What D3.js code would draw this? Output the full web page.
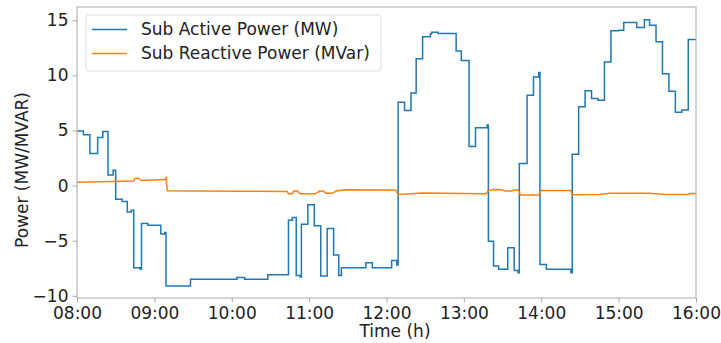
<!DOCTYPE html>
<html>
<head>
<meta charset="utf-8">
<script src="https://cdn.jsdelivr.net/npm/d3@7"></script>
<style>
  body { margin: 0; background: #fff; }
  text { font-family: "DejaVu Sans", sans-serif; fill: #222; }
</style>
</head>
<body>
<svg width="721" height="343"></svg>
<script>
// Active power: step start times and values
var activeTimes = ["08:00","08:05","08:10","08:16","08:20","08:24","08:28","08:30","08:35","08:39","08:42","08:44","08:49","08:50","08:55","09:05","09:08","09:09","09:28","10:04","10:10","10:28","10:44","10:47","10:50","10:53","10:54","10:59","11:04","11:09","11:14","11:19","11:23","11:25","11:44","11:49","12:04","12:08","12:09","12:14","12:19","12:23","12:28","12:34","12:35","12:40","12:54","12:58","13:04","13:09","13:18","13:19","13:23","13:27","13:34","13:39","13:42","13:43","13:49","13:54","13:58","13:59","14:04","14:23","14:24","14:29","14:34","14:39","14:44","14:49","14:54","15:00","15:04","15:14","15:20","15:24","15:29","15:34","15:39","15:44","15:49","15:54","16:00"];
var activeValues = [4.95,4.6,2.9,4.35,4.9,0.95,1.4,-1.25,-1.45,-2.4,-2.25,-7.45,-7.6,-3.45,-3.6,-4.4,-4.25,-9.1,-8.5,-8.35,-8.5,-8.1,-3.15,-2.9,-8.15,-8.3,-3.5,-1.75,-3.65,-8.2,-3.9,-6.3,-8.15,-7.45,-7.0,-7.45,-6.8,-7.2,7.55,6.8,8.4,11.5,13.5,13.75,13.9,13.8,12.2,11.35,3.55,5.25,5.5,-5.05,-7.3,-7.6,-5.65,-7.7,-7.9,2.0,8.2,9.85,10.25,-7.15,-7.6,-7.9,2.85,7.15,8.6,7.9,7.75,11.2,14.05,14.1,14.8,14.35,15.05,14.55,13.05,10.15,8.55,6.65,6.85,13.25,13.25];

// Reactive power
var reactiveTimes = ["08:00","08:44","08:45","08:48","08:50","09:08","09:09","09:10","10:06","10:43","10:44","10:47","10:48","10:51","10:53","11:05","11:08","11:11","11:13","11:18","11:21","11:28","12:07","12:09","12:28","13:17","13:19","13:23","13:29","13:32","13:37","13:39","13:42","13:44","13:58","14:00","14:23","14:24","14:45","14:53","15:24","15:36","15:54","15:55","16:00"];
var reactiveValues = [0.3,0.42,0.65,0.65,0.45,0.55,0.7,-0.47,-0.52,-0.53,-0.75,-0.75,-0.5,-0.5,-0.75,-0.75,-0.5,-0.5,-0.7,-0.7,-0.5,-0.38,-0.4,-0.8,-0.68,-0.75,-0.47,-0.35,-0.38,-0.5,-0.5,-0.4,-0.4,-0.85,-0.85,-0.44,-0.44,-0.83,-0.8,-0.7,-0.7,-0.8,-0.8,-0.73,-0.73];

var xTicks = ["08:00","09:00","10:00","11:00","12:00","13:00","14:00","15:00","16:00"];
var yTicks = [-10, -5, 0, 5, 10, 15];

var seriesNames = ["Sub Active Power (MW)", "Sub Reactive Power (MVar)"];
var seriesColors = ["#1f77b4", "#ff7f0e"];

var svg = d3.select("svg");
var margin = {left: 77, top: 7, right: 25, bottom: 45};
var width = 721 - margin.left - margin.right,
    height = 343 - margin.top - margin.bottom;

var parse = d3.timeParse("%H:%M");

var x = d3.scaleTime()
    .domain([parse("08:00"), parse("16:00")])
    .range([0, width]);

var y = d3.scaleLinear()
    .domain([-10.2, 16.2])
    .range([height, 0]);

var g = svg.append("g")
    .attr("transform", "translate(" + margin.left + "," + margin.top + ")");

var active = activeTimes.map(function(t, i){ return {t: parse(t), v: activeValues[i]} });
var reactive = reactiveTimes.map(function(t, i){ return {t: parse(t), v: reactiveValues[i]} });

// lines
g.append("path")
    .datum(active)
    .attr("fill", "none")
    .attr("stroke", seriesColors[0])
    .attr("stroke-width", 1.5)
    .attr("d", d3.line()
        .curve(d3.curveStepAfter)
        .x(function(d){ return x(d.t) })
        .y(function(d){ return y(d.v) }));

g.append("path")
    .datum(reactive)
    .attr("fill", "none")
    .attr("stroke", seriesColors[1])
    .attr("stroke-width", 1.5)
    .attr("d", d3.line()
        .x(function(d){ return x(d.t) })
        .y(function(d){ return y(d.v) }));

// axes
var xAxis = g.append("g")
    .attr("transform", "translate(0," + height + ")")
    .call(d3.axisBottom(x)
        .tickValues(xTicks.map(parse))
        .tickFormat(d3.timeFormat("%H:%M"))
        .tickSize(4.5)
        .tickPadding(4));

var yAxis = g.append("g")
    .call(d3.axisLeft(y)
        .tickValues(yTicks)
        .tickSize(4.5)
        .tickPadding(4));

[xAxis, yAxis].forEach(function(a){
    a.select(".domain").remove();
    a.selectAll("line").attr("stroke", "#aaa");
    a.selectAll("text").style("font-size", "17px").style("fill", "#222");
});

// frame
g.append("rect")
    .attr("width", width)
    .attr("height", height)
    .attr("fill", "none")
    .attr("stroke", "#aaa")
    .attr("stroke-width", 1);

// axis labels
svg.append("text")
    .attr("x", 395)
    .attr("y", 337)
    .attr("text-anchor", "middle")
    .style("font-size", "17px")
    .text("Time (h)");

svg.append("text")
    .attr("transform", "translate(22,170) rotate(-90)")
    .attr("text-anchor", "middle")
    .attr("dy", "0.35em")
    .style("font-size", "17px")
    .text("Power (MW/MVAR)");

// legend
var legend = g.append("g")
    .attr("transform", "translate(9,8)");

legend.append("rect")
    .attr("width", 295)
    .attr("height", 56)
    .attr("rx", 3)
    .attr("fill", "#fff")
    .attr("fill-opacity", 0.8)
    .attr("stroke", "#ddd");

var items = legend.selectAll("g.item")
    .data(seriesNames)
    .enter()
    .append("g")
      .attr("transform", function(d, i){ return "translate(0," + (14.5 + i * 24) + ")" });

items.append("line")
    .attr("x1", 6).attr("x2", 41)
    .attr("stroke", function(d, i){ return seriesColors[i] })
    .attr("stroke-width", 1.5);

items.append("text")
    .attr("x", 55)
    .attr("dy", "0.35em")
    .style("font-size", "17px")
    .text(function(d){ return d });
</script>
</body>
</html>
